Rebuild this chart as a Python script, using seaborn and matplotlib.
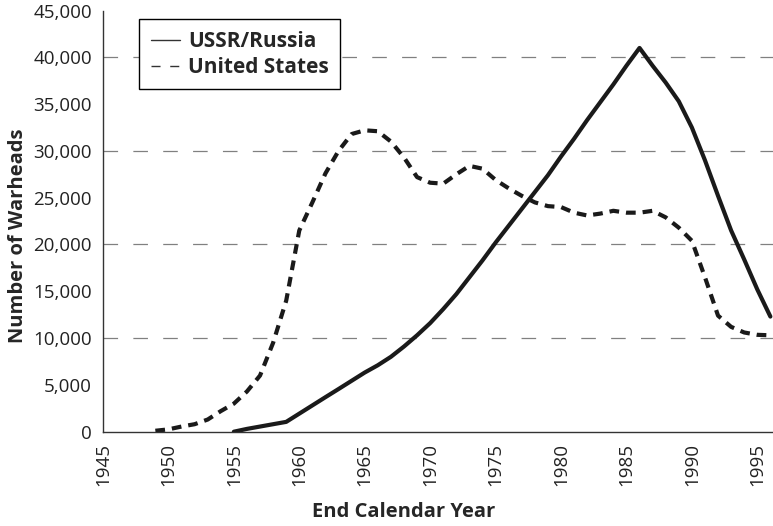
import pandas as pd
import matplotlib
matplotlib.use("Agg")
import matplotlib.pyplot as plt
from matplotlib.lines import Line2D
from matplotlib.ticker import FuncFormatter, MultipleLocator
import seaborn as sns

# Warhead stockpiles
us_years = list(range(1949, 1997))
us_warheads = [
    100, 250, 550, 800, 1300, 2200, 3000, 4300, 6000, 9500,
    14000, 21500, 24500, 27600, 30000, 31800, 32200, 32100, 31000, 29300,
    27200, 26600, 26500, 27500, 28400, 28100, 26900, 26000, 25200, 24500,
    24100, 24000, 23400, 23100, 23300, 23600, 23400, 23400, 23600, 22900,
    21800, 20400, 16500, 12400, 11200, 10600, 10350, 10300,
]

ussr_years = list(range(1955, 1997))
ussr_warheads = [
    0, 300, 550, 800, 1050, 1930, 2810, 3690, 4560, 5440,
    6320, 7100, 8000, 9100, 10300, 11600, 13100, 14700, 16500, 18300,
    20200, 22000, 23800, 25600, 27400, 29400, 31300, 33300, 35200, 37100,
    39100, 41000, 39100, 37300, 35300, 32500, 29000, 25200, 21500, 18400,
    15200, 12300,
]

series_names = ["USSR/Russia", "United States"]

df = pd.concat([
    pd.DataFrame({"year": ussr_years, "warheads": ussr_warheads, "country": series_names[0]}),
    pd.DataFrame({"year": us_years, "warheads": us_warheads, "country": series_names[1]}),
])

sns.set_style("white")
plt.rcParams["font.family"] = ["Open Sans", "DejaVu Sans"]
plt.rcParams["lines.scale_dashes"] = False

fig = plt.figure(figsize=(7.73, 5.26), dpi=100)
ax = fig.add_axes([103 / 773, 1 - 431.7 / 526, 670 / 773, 421.2 / 526])

sns.lineplot(
    data=df, x="year", y="warheads", style="country",
    dashes={series_names[0]: "", series_names[1]: (7, 5)},
    color="#1a1a1a", linewidth=3.0, legend=False, ax=ax,
)

# dashed grid only every 10,000
for v in range(10000, 45000, 10000):
    ax.axhline(v, color="#808080", lw=0.9, ls=(0, (10.5, 11)), zorder=0)

ax.set_xlim(1945, 1996.2)
ax.set_ylim(0, 45000)
ax.yaxis.set_major_locator(MultipleLocator(5000))
ax.yaxis.set_major_formatter(FuncFormatter(lambda v, p: f"{v:,.0f}"))
ax.set_xticks(range(1945, 1996, 5))
ax.tick_params(axis="both", length=0, labelsize=13.5, colors="#222222", pad=8)
ax.tick_params(axis="x", labelrotation=90)

for s in ["top", "right"]:
    ax.spines[s].set_visible(False)
for s in ["left", "bottom"]:
    ax.spines[s].set_color("#333333")
    ax.spines[s].set_linewidth(1.0)

ax.set_xlabel("End Calendar Year", fontsize=14.5, fontweight="bold")
ax.set_ylabel("Number of Warheads", fontsize=14.5, fontweight="bold")
ax.xaxis.set_label_coords(0.448, -0.166)
ax.yaxis.set_label_coords(-0.112, 0.466)

handles = [
    Line2D([], [], color="#333333", lw=1.0, ls="-"),
    Line2D([], [], color="#333333", lw=1.0, ls=(0, (6.5, 7))),
]
leg = ax.legend(
    handles, series_names, loc="upper left", bbox_to_anchor=(0.054, 0.979),
    borderaxespad=0, frameon=True, fancybox=False, framealpha=1,
    edgecolor="black", handlelength=1.4, handletextpad=0.4,
    labelspacing=0.25, borderpad=0.55, prop={"size": 15, "weight": "bold"},
)
leg.get_frame().set_linewidth(1.0)

fig.savefig("out.png", dpi=100)
